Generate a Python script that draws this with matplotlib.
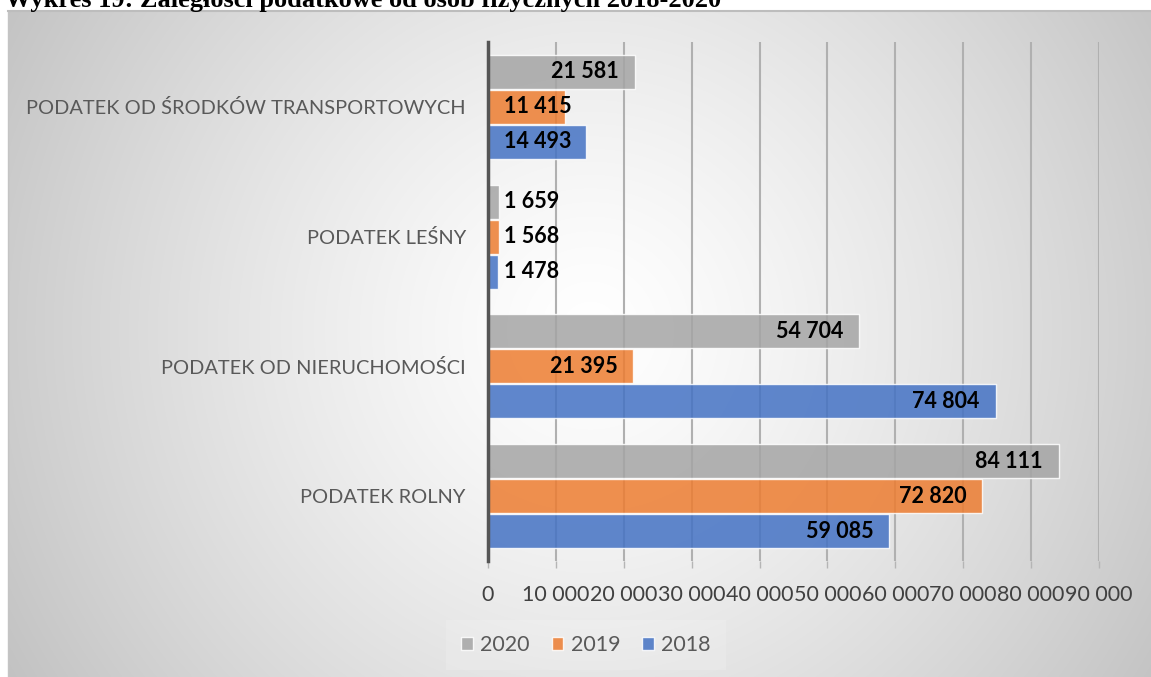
import numpy as np
import matplotlib
matplotlib.use("Agg")
import matplotlib.pyplot as plt
from matplotlib.patches import Patch
from matplotlib.ticker import FuncFormatter

# dane
kategorie = ["PODATEK ROLNY", "PODATEK OD NIERUCHOMOŚCI", "PODATEK LEŚNY",
             "PODATEK OD ŚRODKÓW TRANSPORTOWYCH"]
lata = ["2020", "2019", "2018"]
w2020 = [84111, 54704, 1659, 21581]
w2019 = [72820, 21395, 1568, 11415]
w2018 = [59085, 74804, 1478, 14493]
kolory = ["#a5a5a5", "#ed7d31", "#4472c4"]
xticks = list(range(0, 90001, 10000))

plt.rcParams['font.family'] = ['Lato', 'DejaVu Sans']

W, H = 1151, 677
fig = plt.figure(figsize=(W / 100, H / 100), dpi=100, facecolor='white')

# tlo z gradientem
top_px, left_px = 11, 8
bg = fig.add_axes([left_px / W, 0, 1 - left_px / W, (H - top_px) / H], zorder=0)
yy, xx = np.mgrid[top_px:H, left_px:W]
d = np.sqrt((xx - 590.0) ** 2 + (yy - 330.0) ** 2)
v = np.clip(1 - 0.24 * (d / 680.0) ** 1.3, 0.7, 1.0)
bg.imshow(np.dstack([v, v, v]), aspect='auto', interpolation='bilinear')
bg.set_xticks([])
bg.set_yticks([])
for s in bg.spines.values():
    s.set_visible(False)
bg.spines['top'].set_visible(True)
bg.spines['top'].set_color('#bdbdbd')
bg.spines['top'].set_linewidth(1.5)
bg.spines['left'].set_visible(True)
bg.spines['left'].set_color('#c4c4c4')
bg.spines['left'].set_linewidth(1.0)

# tytul - w oryginale uciety u gory
fig.text(5 / W, 1 - 6.7 / H, "Wykres 19: Zaległości podatkowe od osób fizycznych 2018-2020",
         family='Liberation Serif', weight='bold', fontsize=19, va='baseline', ha='left')

ax = fig.add_axes([488 / W, 1 - 561 / H, (1099 - 488) / W, (561 - 42) / H], zorder=1)
ax.set_facecolor('none')

y = np.arange(len(kategorie))
h = 0.27
serie = [w2020, w2019, w2018]
offs = [h, 0, -h]
for vals, c, o in zip(serie, kolory, offs):
    ax.barh(y + o, vals, height=h * 0.97, color=c, alpha=0.85,
            edgecolor=(1, 1, 1, 0.6), linewidth=1.0, zorder=3)

fmt = lambda x: f"{x:,.0f}".replace(",", " ")
pad = 2356
for vals, o in zip(serie, offs):
    for yi, val in zip(y, vals):
        if val < 15000:
            ax.text(pad, yi + o, fmt(val), ha='left', va='center',
                    fontsize=15.5, weight='bold', color='black', zorder=4)
        else:
            ax.text(val - pad, yi + o, fmt(val), ha='right', va='center',
                    fontsize=15.5, weight='bold', color='black', zorder=4)

ax.set_xlim(0, 90000)
ax.set_ylim(-0.5, 3.5)
ax.set_xticks(xticks)
ax.xaxis.set_major_formatter(FuncFormatter(lambda x, p: fmt(x)))
ax.set_yticks(y)
ax.set_yticklabels(kategorie)
ax.tick_params(axis='y', length=0, pad=16, labelsize=14.4, labelcolor='#595959')
ax.tick_params(axis='x', length=5, width=1, color='#b5b5b5', pad=12,
               labelsize=15.5, labelcolor='#404040')
ax.grid(axis='x', color='#b0b0b0', linewidth=1.5, zorder=0)
ax.set_axisbelow(True)
for s in ['top', 'right', 'bottom']:
    ax.spines[s].set_visible(False)
ax.spines['left'].set_color('#555555')
ax.spines['left'].set_linewidth(2.5)
ax.spines['left'].set_zorder(5)

uchwyty = [Patch(facecolor=c, alpha=0.85, edgecolor=(1, 1, 1, 0.6)) for c in kolory]
leg = fig.legend(uchwyty, lata, loc='center', bbox_to_anchor=(586 / W, 1 - 645 / H),
                 ncol=3, frameon=True, fontsize=15.5, handlelength=0.55,
                 handleheight=0.55, handletextpad=0.35, columnspacing=1.0,
                 borderpad=0.7)
leg.get_frame().set_facecolor('white')
leg.get_frame().set_alpha(0.15)
leg.get_frame().set_edgecolor('none')
leg.get_frame().set_boxstyle('square', pad=0)
for t in leg.get_texts():
    t.set_color('#595959')

fig.savefig('out.png', dpi=100)
